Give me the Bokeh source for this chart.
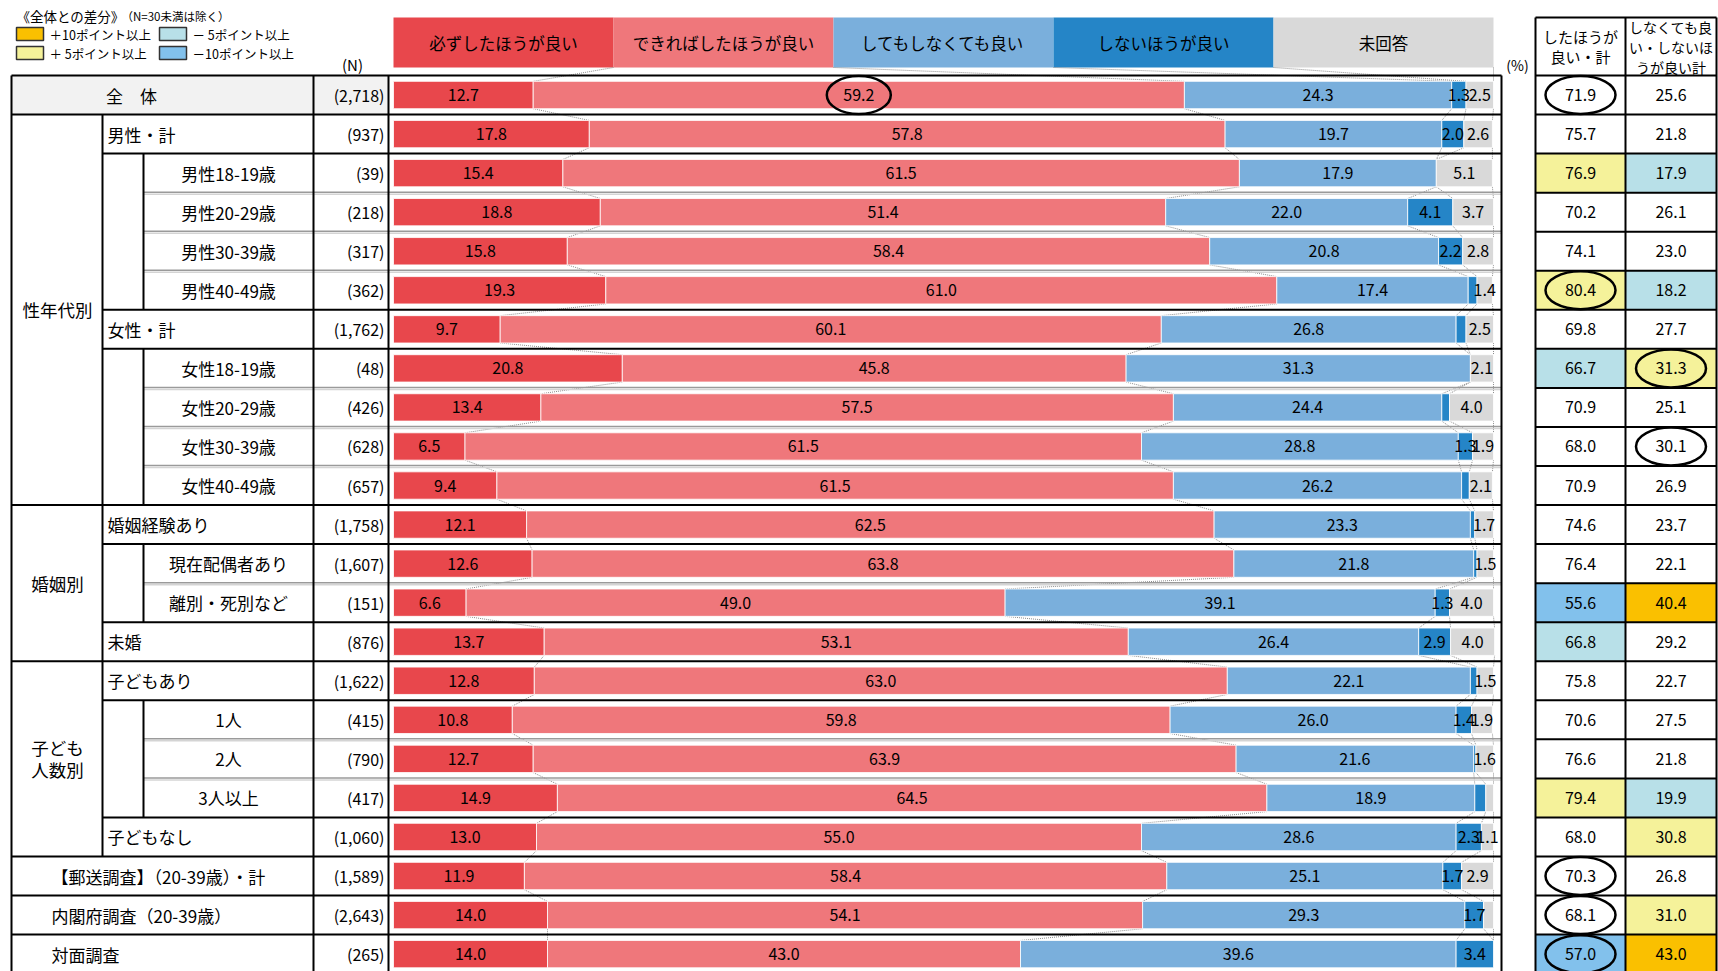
import numpy as np
from bokeh.plotting import figure
from bokeh.models import Range1d
from bokeh.embed import file_html
from bokeh.resources import INLINE
from bokeh.core.properties import value

# ---------------- data ----------------
categories = ["全　体", "男性・計", "男性18-19歳", "男性20-29歳", "男性30-39歳", "男性40-49歳",
              "女性・計", "女性18-19歳", "女性20-29歳", "女性30-39歳", "女性40-49歳",
              "婚姻経験あり", "現在配偶者あり", "離別・死別など", "未婚",
              "子どもあり", "1人", "2人", "3人以上", "子どもなし",
              "【郵送調査】（20-39歳）・計", "内閣府調査（20-39歳）", "対面調査"]
n_labels = ["(2,718)", "(937)", "(39)", "(218)", "(317)", "(362)", "(1,762)", "(48)", "(426)",
            "(628)", "(657)", "(1,758)", "(1,607)", "(151)", "(876)", "(1,622)", "(415)", "(790)",
            "(417)", "(1,060)", "(1,589)", "(2,643)", "(265)"]
n_values = [2718, 937, 39, 218, 317, 362, 1762, 48, 426, 628, 657, 1758, 1607, 151, 876,
            1622, 415, 790, 417, 1060, 1589, 2643, 265]
# row kinds: 0 = 全体, 1 = first level, 2 = second level, 3 = survey rows
levels = [0, 1, 2, 2, 2, 2, 1, 2, 2, 2, 2, 1, 2, 2, 1, 1, 2, 2, 2, 1, 3, 3, 3]
groups = [None] + ["sex"] * 10 + ["mar"] * 4 + ["child"] * 5 + [None] * 3
group_labels = [(["性年代別"], 1, 10), (["婚姻別"], 11, 14), (["子ども", "人数別"], 15, 19)]

series = ["必ずしたほうが良い", "できればしたほうが良い", "してもしなくても良い", "しないほうが良い", "未回答"]
must = [12.7, 17.8, 15.4, 18.8, 15.8, 19.3, 9.7, 20.8, 13.4, 6.5, 9.4, 12.1, 12.6, 6.6, 13.7,
        12.8, 10.8, 12.7, 14.9, 13.0, 11.9, 14.0, 14.0]
rather = [59.2, 57.8, 61.5, 51.4, 58.4, 61.0, 60.1, 45.8, 57.5, 61.5, 61.5, 62.5, 63.8, 49.0, 53.1,
          63.0, 59.8, 63.9, 64.5, 55.0, 58.4, 54.1, 43.0]
either = [24.3, 19.7, 17.9, 22.0, 20.8, 17.4, 26.8, 31.3, 24.4, 28.8, 26.2, 23.3, 21.8, 39.1, 26.4,
          22.1, 26.0, 21.6, 18.9, 28.6, 25.1, 29.3, 39.6]
better_not = [1.3, 2.0, 0.0, 4.1, 2.2, 0.8, 0.9, 0.0, 0.7, 1.3, 0.7, 0.4, 0.3, 1.3, 2.9,
              0.6, 1.4, 0.2, 1.0, 2.3, 1.7, 1.7, 3.4]
no_answer = [2.5, 2.6, 5.1, 3.7, 2.8, 1.4, 2.5, 2.1, 4.0, 1.9, 2.1, 1.7, 1.5, 4.0, 4.0,
             1.5, 1.9, 1.6, 0.7, 1.1, 2.9, 0.9, 0.0]
total_do = [71.9, 75.7, 76.9, 70.2, 74.1, 80.4, 69.8, 66.7, 70.9, 68.0, 70.9, 74.6, 76.4, 55.6, 66.8,
            75.8, 70.6, 76.6, 79.4, 68.0, 70.3, 68.1, 57.0]
total_not = [25.6, 21.8, 17.9, 26.1, 23.0, 18.2, 27.7, 31.3, 25.1, 30.1, 26.9, 23.7, 22.1, 40.4, 29.2,
             22.7, 27.5, 21.8, 19.9, 30.8, 26.8, 31.0, 43.0]
right_headers = [["したほうが", "良い・計"], ["しなくても良", "い・しないほ", "うが良い計"]]
circled_do_rows = [0, 5, 20, 21, 22]
circled_not_rows = [7, 9]
circled_bar = [(0, 1)]
legend_items = [("＋10ポイント以上", "#FAC000"), ("＋ 5ポイント以上", "#F5F29A"),
                ("－ 5ポイント以上", "#B8E0E8"), ("－10ポイント以上", "#82C1EC")]

# ---------------- styles / layout ----------------
seg_colors = ["#E8474C", "#EF777B", "#7AAFDC", "#2585C7", "#D9D9D9"]
FONT = value("Noto Sans CJK JP")
W, H = 1718, 971
OFF = 0
X0, PPX = 393.0, 11.0        # px of 0 %, px per percent
Y0, PPY = 94.525, 39.05      # px of row-0 centre, px per row
BAR_H = 0.70


def X(ref):
    return (ref - OFF - X0) / PPX


def Y(ref):
    return (ref - OFF - Y0) / PPY


p = figure(width=W, height=H, x_range=Range1d(X(OFF), X(OFF + W)),
           y_range=Range1d(Y(OFF + H), Y(OFF)), output_backend="svg",
           toolbar_location=None, x_axis_location=None, y_axis_location=None,
           min_border=0, outline_line_color=None, background_fill_color="white")
p.grid.grid_line_color = None


def txt(xs, ys, texts, size, align="center", x_offset=0, y_offset=0, color="black"):
    p.text(x=xs, y=ys, text=texts, text_font=FONT, text_font_size=value(f"{size}px"),
           text_align=align, text_baseline="middle", text_color=color,
           x_offset=x_offset, y_offset=y_offset)


nrows = len(categories)
rows = np.arange(nrows)
vals = np.array([must, rather, either, better_not, no_answer])
cum = np.cumsum(vals, axis=0)

# ---------------- legend (top-left) ----------------
txt([X(16)], [Y(15)], ["《全体との差分》"], 13.5, align="left")
txt([X(121)], [Y(15)], ["（N=30未満は除く）"], 11.5, align="left")
sw_x = [16, 16, 159, 159]
sw_y = [27, 46, 27, 46]
for (lab, col), sx, sy in zip(legend_items, sw_x, sw_y):
    p.quad(left=X(sx), right=X(sx + 27), top=Y(sy), bottom=Y(sy + 13), fill_color=col,
           line_color="#333333", line_width=1.5)
    txt([X(sx + 33)], [Y(sy + 7)], [lab], 12.5, align="left")

txt([X(352)], [Y(64)], ["(N)"], 15)
txt([X(1517)], [Y(64)], ["(%)"], 14)

# ---------------- header boxes ----------------
hdr_left = [20 * k for k in range(len(series))]
hdr_right = [20 * (k + 1) for k in range(len(series))]
p.quad(left=hdr_left, right=hdr_right, top=Y(17), bottom=Y(67), fill_color=seg_colors,
       line_color=None)
txt([(a + b) / 2 for a, b in zip(hdr_left, hdr_right)], [Y(42)] * 5, series, 16.5)

# ---------------- left table background ----------------
p.quad(left=X(11), right=X(388), top=-0.5, bottom=0.5, fill_color="#F2F2F2", line_color=None)

# ---------------- connector (series) lines ----------------
cxs, cys = [], []
for k in range(5):
    cxs.append([hdr_right[k], cum[k][0]])
    cys.append([Y(67), -BAR_H / 2])
for r in range(nrows - 1):
    for k in range(5):
        cxs.append([cum[k][r], cum[k][r + 1]])
        cys.append([r + BAR_H / 2, r + 1 - BAR_H / 2])
p.multi_line(xs=cxs, ys=cys, line_color="#8C8C8C", line_dash="1 1", line_width=1)

# ---------------- bars ----------------
for k in range(5):
    m = vals[k] > 0
    left = (cum[k] - vals[k])[m]
    right = cum[k][m]
    p.hbar(y=rows[m], left=left, right=right, height=BAR_H, fill_color=seg_colors[k],
           line_color="white", line_width=1, line_alpha=0.8)

lx, ly, lt = [], [], []
for k in range(5):
    for r in range(nrows):
        v = vals[k][r]
        if v >= 1.1:
            lx.append(cum[k][r] - v / 2)
            ly.append(r)
            lt.append(f"{v:.1f}")
txt(lx, ly, lt, 16)

# ---------------- table lines ----------------
BLACK_W = 2
RIGHT_EDGE = X(1501)
bx0, by, gx0, gy = [], [], [], []
for r in range(nrows - 1):
    b = r + 0.5
    a, c = levels[r], levels[r + 1]
    if a in (0, 3) or c in (0, 3) or groups[r] != groups[r + 1]:
        bx0.append(X(11)); by.append(b)
    elif a == 2 and c == 2:
        gx0.append(X(143)); gy.append(b)
    else:
        bx0.append(X(102)); by.append(b)
bx0.append(X(11)); by.append(-0.5)
p.segment(x0=bx0, y0=by, x1=[RIGHT_EDGE] * len(by), y1=by, line_color="black", line_width=BLACK_W)
off1 = 1.5 / PPY
p.segment(x0=gx0, y0=[g - 0.5 / PPY for g in gy], x1=[RIGHT_EDGE] * len(gy),
          y1=[g - 0.5 / PPY for g in gy], line_color="#9A9A9A", line_width=1.5)
p.segment(x0=gx0, y0=[g + off1 for g in gy], x1=[RIGHT_EDGE] * len(gy),
          y1=[g + off1 for g in gy], line_color="#D4D4D4", line_width=1.5)

bottom = Y(OFF + H + 5)
vx, vy0, vy1 = [], [], []
for xr in (11, 313, 388, 1501):
    vx.append(X(xr)); vy0.append(-0.5); vy1.append(bottom)
grow = [r for r in range(nrows) if groups[r] is not None]
vx.append(X(102)); vy0.append(min(grow) - 0.5); vy1.append(max(grow) + 0.5)
r = 0
while r < nrows:
    if levels[r] == 2:
        s = r
        while r + 1 < nrows and levels[r + 1] == 2:
            r += 1
        vx.append(X(143)); vy0.append(s - 0.5); vy1.append(r + 0.5)
    r += 1
p.segment(x0=vx, y0=vy0, x1=vx, y1=vy1, line_color="black", line_width=BLACK_W)

# ---------------- left table texts ----------------
for r in range(nrows):
    lv = levels[r]
    if lv == 0:
        txt([X(131)], [r], [categories[r]], 17)
    elif lv == 1:
        txt([X(107)], [r], [categories[r]], 17, align="left")
    elif lv == 2:
        txt([X(228)], [r], [categories[r]], 17)
    else:
        txt([X(51)], [r], [categories[r]], 17, align="left")
txt([X(384)] * nrows, list(rows), n_labels, 16, align="right")
for lines, r0, r1 in group_labels:
    mid = (r0 + r1) / 2
    n = len(lines)
    for i, ln in enumerate(lines):
        txt([X(57)], [mid], [ln], 17.5, y_offset=(i - (n - 1) / 2) * 22)

# ---------------- right table ----------------
base_do, base_not = total_do[0], total_not[0]


def diff_color(v, base, n, r):
    if r == 0 or n < 30:
        return "white"
    d = v - base
    if d >= 10:
        return legend_items[0][1]
    if d >= 5:
        return legend_items[1][1]
    if d <= -10:
        return legend_items[3][1]
    if d <= -5:
        return legend_items[2][1]
    return "white"


RX = [1535, 1625, 1716]
cols_vals = [total_do, total_not]
cols_base = [base_do, base_not]
for ci in range(2):
    fills = [diff_color(v, cols_base[ci], n, r) for r, (v, n) in enumerate(zip(cols_vals[ci], n_values))]
    p.quad(left=X(RX[ci]), right=X(RX[ci + 1]), top=rows - 0.5, bottom=rows + 0.5,
           fill_color=fills, line_color=None)
    cx = X((RX[ci] + RX[ci + 1]) / 2)
    txt([cx] * nrows, list(rows), [f"{v:.1f}" for v in cols_vals[ci]], 16)
    hl = right_headers[ci]
    nh = len(hl)
    for i, ln in enumerate(hl):
        txt([cx], [Y(46)], [ln], 14 if nh == 3 else 15, y_offset=(i - (nh - 1) / 2) * 20)

hy = [Y(17)] + [r - 0.5 for r in range(nrows)] + [nrows - 0.5]
p.segment(x0=[X(RX[0])] * len(hy), y0=hy, x1=[X(RX[2])] * len(hy), y1=hy,
          line_color="black", line_width=BLACK_W)
p.segment(x0=[X(x) for x in RX], y0=[Y(17)] * 3, x1=[X(x) for x in RX], y1=[bottom] * 3,
          line_color="black", line_width=BLACK_W)

# ---------------- circles ----------------
ex, ey = [], []
for r, k in circled_bar:
    ex.append(cum[k][r] - vals[k][r] / 2); ey.append(r)
p.ellipse(x=ex, y=ey, width=64, height=38, width_units="screen", height_units="screen",
          fill_color=None, line_color="black", line_width=2.5)
ex = [X((RX[0] + RX[1]) / 2)] * len(circled_do_rows) + [X((RX[1] + RX[2]) / 2)] * len(circled_not_rows)
ey = circled_do_rows + circled_not_rows
p.ellipse(x=ex, y=ey, width=70, height=38, width_units="screen", height_units="screen",
          fill_color=None, line_color="black", line_width=2.5)

open("out.html", "w").write(file_html(p, INLINE))
